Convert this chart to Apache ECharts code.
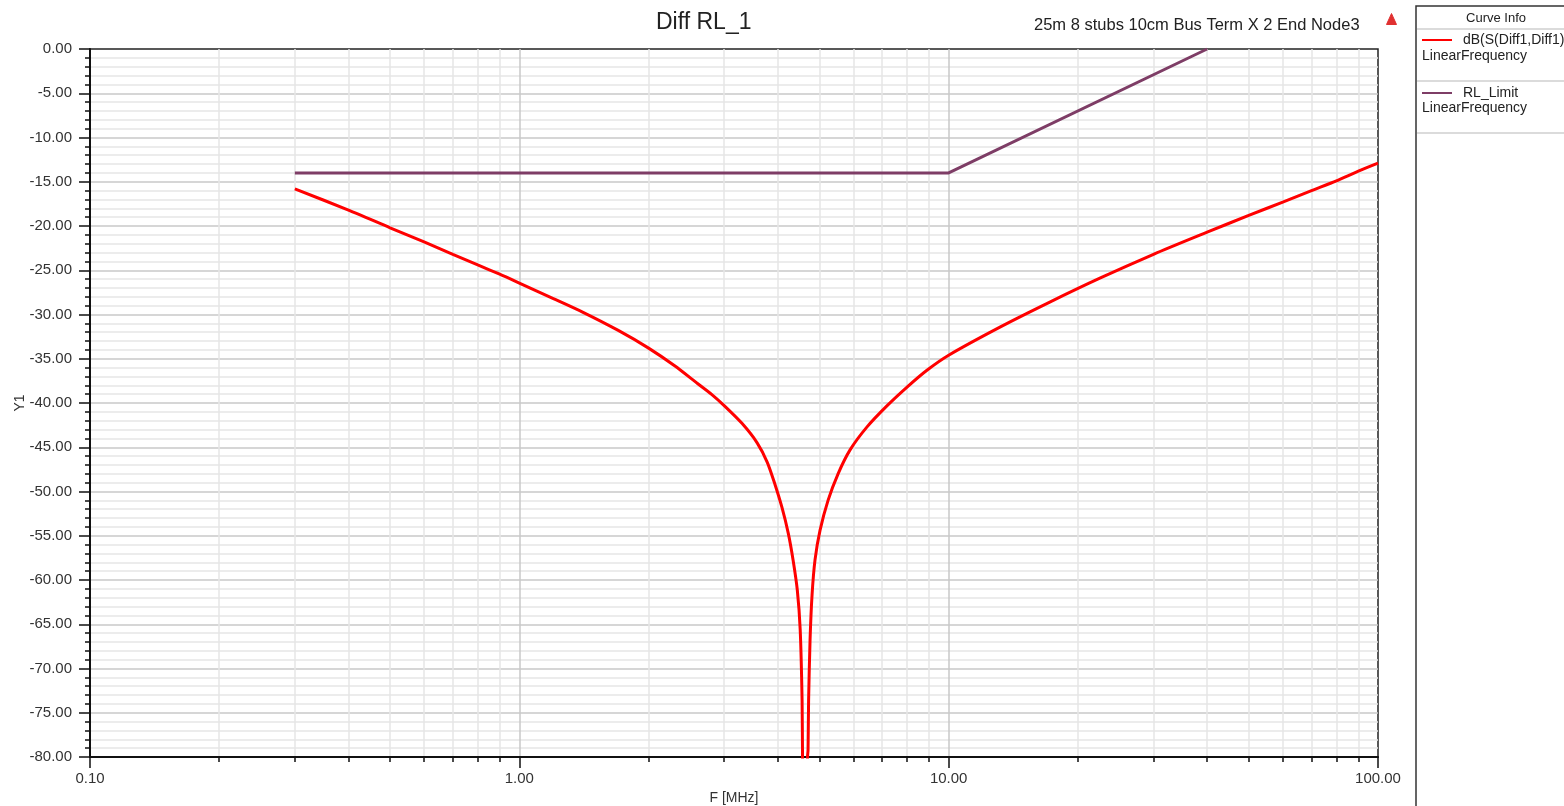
<!DOCTYPE html>
<html>
<head>
<meta charset="utf-8">
<title>Diff RL_1</title>
<script src="https://cdn.jsdelivr.net/npm/echarts@6/dist/echarts.min.js"></script>
<style>
  html, body { margin: 0; padding: 0; background: #fff; }
  #chart { width: 1564px; height: 806px; }
</style>
</head>
<body>
<div id="chart"></div>
<script>
// S-parameter sweep (MHz, dB)
const rlFreq = [0.3, 0.4, 0.5, 0.6, 0.7, 0.8, 0.9, 1.0, 1.2, 1.4, 1.7, 2.0, 2.3, 2.6, 2.8, 3.0, 3.3, 3.58, 3.78, 3.94, 4.09, 4.23, 4.34, 4.44, 4.51, 4.556, 4.567, 4.63, 4.691, 4.704, 4.718, 4.755, 4.806, 4.884, 5.016, 5.237, 5.526, 5.893, 6.455, 7.19, 8.0, 8.9, 10, 13.2, 17.2, 22.5, 30, 40, 50, 60, 70, 80, 90, 100]
const rlDb = [-15.8, -18.2, -20.2, -21.8, -23.2, -24.4, -25.45, -26.45, -28.2, -29.7, -31.8, -33.8, -35.8, -37.8, -39.0, -40.3, -42.3, -44.5, -46.7, -49.2, -51.8, -54.7, -57.7, -61.1, -65.6, -73.6, -80.0, -100, -80.0, -79.2, -73.6, -66.8, -61.7, -57.7, -54.4, -51.0, -48.0, -45.3, -42.7, -40.3, -38.2, -36.3, -34.6, -31.4, -28.6, -25.9, -23.2, -20.7, -18.8, -17.3, -16.0, -14.9, -13.8, -12.9]

// limit line
const limitFreq = [0.3, 10, 40]
const limitDb = [-14, -14, 0]

const seriesNames = ['dB(S(Diff1,Diff1))', 'RL_Limit']
const sweepName = 'LinearFrequency'
const minorFreqTicks = [0.2, 0.3, 0.4, 0.5, 0.6, 0.7, 0.8, 0.9, 2, 3, 4, 5, 6, 7, 8, 9, 20, 30, 40, 50, 60, 70, 80, 90]

const font = '"Liberation Sans", Arial, sans-serif'
const red = '#ff0000'
const purple = '#7e3d66'

const chart = echarts.init(document.getElementById('chart'))

const option = {
  animation: false,
  textStyle: { fontFamily: font },
  title: [
    { text: 'Diff RL_1', left: 651, top: 6, textStyle: { fontFamily: font, fontSize: 23, fontWeight: 'normal', color: '#222' } },
    { text: '25m 8 stubs 10cm Bus Term X 2 End Node3', left: 1029, top: 12, textStyle: { fontFamily: font, fontSize: 16.5, fontWeight: 'normal', color: '#222' } }
  ],
  grid: {
    left: 90, right: 186, top: 49, bottom: 49,
    outerBoundsMode: 'none', containLabel: false,
    show: true, borderColor: '#222', borderWidth: 1.5, backgroundColor: '#fff'
  },
  xAxis: [
    {
      type: 'log', logBase: 10, min: 0.1, max: 100, position: 'bottom',
      name: 'F [MHz]', nameLocation: 'middle', nameGap: 32,
      nameTextStyle: { fontFamily: font, fontSize: 14, color: '#333' },
      axisLine: { onZero: false, lineStyle: { color: '#111', width: 2 } },
      axisTick: { length: 11, lineStyle: { color: '#111', width: 1.5 } },
      axisLabel: { margin: 14, fontSize: 15, color: '#333', formatter: v => Number(v).toFixed(2) },
      splitLine: { show: true, showMinLine: false, showMaxLine: false, lineStyle: { color: '#c8c8c8', width: 1.5 } },
      z: 3
    },
    {
      type: 'log', logBase: 10, min: 0.1, max: 100, position: 'bottom',
      axisLine: { show: false, onZero: false },
      axisTick: { show: true, length: 5, customValues: minorFreqTicks, lineStyle: { color: '#111', width: 1.5 } },
      axisLabel: { show: false },
      splitLine: { show: true, lineStyle: { color: '#e6e6e6', width: 1.5 } },
      z: 2
    }
  ],
  yAxis: {
    type: 'value', min: -80, max: 0, interval: 5,
    name: 'Y1', nameLocation: 'middle', nameGap: 63, nameRotate: 90, nameMoveOverlap: false,
    nameTextStyle: { fontFamily: font, fontSize: 14, color: '#333' },
    axisLine: { show: true, onZero: false, lineStyle: { color: '#111', width: 2 } },
    axisTick: { show: true, length: 11, lineStyle: { color: '#111', width: 1.5 } },
    minorTick: { show: true, splitNumber: 5, length: 5, lineStyle: { color: '#111', width: 1.5 } },
    axisLabel: { margin: 18, fontSize: 15, color: '#333', formatter: v => v.toFixed(2) },
    splitLine: { show: true, showMinLine: false, showMaxLine: false, lineStyle: { color: '#c8c8c8', width: 1.5 } },
    minorSplitLine: { show: true, lineStyle: { color: '#e6e6e6', width: 1.5 } }
  },
  series: [
    {
      name: seriesNames[0], type: 'line', xAxisIndex: 0, showSymbol: false, clip: true,
      smooth: 0.25,
      lineStyle: { color: red, width: 3 }, itemStyle: { color: red },
      data: rlFreq.map((f, i) => [f, rlDb[i]]),
      z: 5
    },
    {
      name: seriesNames[1], type: 'line', xAxisIndex: 0, showSymbol: false, clip: true,
      lineStyle: { color: purple, width: 3 }, itemStyle: { color: purple },
      data: limitFreq.map((f, i) => [f, limitDb[i]]),
      z: 5
    }
  ],
  graphic: [
    // small logo next to the subtitle
    { type: 'polygon', left: 1386, top: 13, shape: { points: [[5, 0], [10, 11], [0, 11]] }, style: { fill: '#e03030', stroke: '#e03030', lineWidth: 1 } },
    // curve info box
    { type: 'rect', shape: { x: 1416, y: 6, width: 170, height: 820 }, style: { fill: '#fff', stroke: '#333', lineWidth: 1.5 } },
    { type: 'text', x: 1496, y: 18, style: { text: 'Curve Info', font: '13px ' + font, fill: '#222', align: 'center', verticalAlign: 'middle' } },
    { type: 'line', shape: { x1: 1417, y1: 29, x2: 1564, y2: 29 }, style: { stroke: '#cfcfcf', lineWidth: 1.5 } },
    { type: 'line', shape: { x1: 1422, y1: 40, x2: 1452, y2: 40 }, style: { stroke: red, lineWidth: 2 } },
    { type: 'text', x: 1463, y: 40, style: { text: seriesNames[0], font: '14px ' + font, fill: '#222', verticalAlign: 'middle' } },
    { type: 'text', x: 1422, y: 56, style: { text: sweepName, font: '14px ' + font, fill: '#222', verticalAlign: 'middle' } },
    { type: 'line', shape: { x1: 1417, y1: 81, x2: 1564, y2: 81 }, style: { stroke: '#cfcfcf', lineWidth: 1.5 } },
    { type: 'line', shape: { x1: 1422, y1: 93, x2: 1452, y2: 93 }, style: { stroke: purple, lineWidth: 2 } },
    { type: 'text', x: 1463, y: 93, style: { text: seriesNames[1], font: '14px ' + font, fill: '#222', verticalAlign: 'middle' } },
    { type: 'text', x: 1422, y: 108, style: { text: sweepName, font: '14px ' + font, fill: '#222', verticalAlign: 'middle' } },
    { type: 'line', shape: { x1: 1417, y1: 133, x2: 1564, y2: 133 }, style: { stroke: '#cfcfcf', lineWidth: 1.5 } }
  ]
}

chart.setOption(option)
</script>
</body>
</html>
